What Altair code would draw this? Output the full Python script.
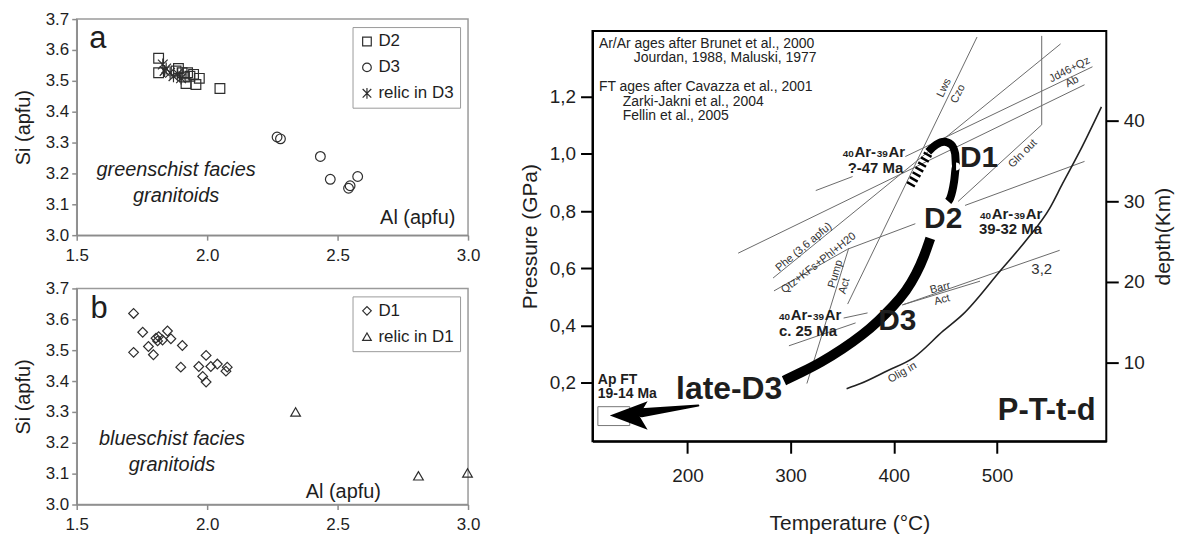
import altair as alt
import pandas as pd

FONT = "Liberation Sans"
INK = "#1e1e1e"
GREY = "#8c8c8c"
ASTER = "M-1,-1L1,1M-1,1L1,-1M0,-1.25L0,1.25"
HEAD = "M-1,0L1,-0.75L0.55,0L1,0.75Z"

# ---------------- panel a: greenschist facies ----------------
a_d2_al = [1.814, 1.814, 1.890, 1.904, 1.919, 1.925, 1.934, 1.948, 1.957, 1.970, 1.913, 2.049, 1.881]
a_d2_si = [3.573, 3.526, 3.540, 3.526, 3.491, 3.526, 3.515, 3.521, 3.488, 3.508, 3.512, 3.475, 3.532]
a_d3_al = [2.268, 2.281, 2.434, 2.472, 2.542, 2.548, 2.577]
a_d3_si = [3.318, 3.312, 3.255, 3.181, 3.152, 3.160, 3.190]
a_relic_al = [1.830, 1.843, 1.858, 1.871, 1.887, 1.837, 1.900]
a_relic_si = [3.553, 3.540, 3.526, 3.515, 3.523, 3.532, 3.508]

# ---------------- panel b: blueschist facies ----------------
b_d1_al = [1.718, 1.753, 1.718, 1.775, 1.794, 1.804, 1.814, 1.829, 1.848, 1.861, 1.905,
           1.899, 1.968, 1.996, 1.983, 1.996, 2.014, 2.039, 2.077, 2.072, 1.810]
b_d1_si = [3.619, 3.558, 3.493, 3.512, 3.485, 3.539, 3.544, 3.533, 3.562, 3.537, 3.515,
           3.445, 3.447, 3.483, 3.415, 3.397, 3.447, 3.455, 3.445, 3.432, 3.530]
b_relic_al = [2.339, 2.810, 2.998]
b_relic_si = [3.300, 3.093, 3.102]

al_ticks = [1.5, 2.0, 2.5, 3.0]
si_ticks = [3.0, 3.1, 3.2, 3.3, 3.4, 3.5, 3.6, 3.7]

# ---------------- P-T-t-d diagram ----------------
t_ticks = [200, 300, 400, 500]
p_ticks = [0.2, 0.4, 0.6, 0.8, 1.0, 1.2]
depth_ticks = [10, 20, 30, 40]

lws_T, lws_P = [480.7, 355.3], [1.409, 0.475]
pump_T, pump_P = [356.3, 315.8], [0.670, 0.197]
phe36_T, phe36_P = [283.0, 561.7], [0.566, 1.385]
qtz1_T, qtz1_P = [283.9, 355.3, 420.9], [0.521, 0.667, 0.756]
qtz2_T, qtz2_P = [469.1, 584.9], [0.820, 0.974]
jd1_T, jd1_P = [324.4, 360.1], [0.872, 0.921]
jd2_T, jd2_P = [411.2, 592.6], [0.991, 1.305]
lb_T, lb_P = [249.2, 584.9], [0.653, 1.242]
gln_T, gln_P = [543.4, 543.4, 462.4], [1.413, 1.102, 0.834]
barr_T, barr_P = [408.4, 483.6], [0.472, 0.555]
i32a_T, i32a_P = [298.4, 363.0], [0.329, 0.409]
i32b_T, i32b_P = [408.4, 560.8], [0.472, 0.663]
lead_T, lead_P = [351.4, 374.6], [0.426, 0.444]

olig_T = [354.3, 367.8, 393.9, 419.0, 447.9, 467.2, 502.9, 529.9, 551.1, 563.7, 580.1, 601.3]
olig_P = [0.179, 0.197, 0.242, 0.287, 0.381, 0.440, 0.590, 0.705, 0.810, 0.897, 1.008, 1.165]

hatch_T, hatch_P = [416.1, 433.4], [0.890, 1.001]
path1_T = [433.4, 441.2, 448.9, 455.6, 459.5, 460.4, 458.5, 454.7, 452.8]
path1_P = [1.008, 1.033, 1.043, 1.033, 1.001, 0.956, 0.904, 0.845, 0.834]
path2_T = [435.4, 429.6, 421.9, 412.2, 399.7, 385.2, 369.8, 350.5, 329.3, 310.0, 293.6]
path2_P = [0.705, 0.643, 0.580, 0.521, 0.468, 0.416, 0.367, 0.318, 0.270, 0.235, 0.207]

shaft_T, shaft_P, shaft_w = [155.6, 210.6], [0.095, 0.120], [9, 2]
head_T, head_P = [143.1], [0.085]
apft_T, apft_P = [113.2, 144.1], [0.050, 0.116]

notes_txt = ["Ar/Ar ages after Brunet et al., 2000", "Jourdan, 1988, Maluski, 1977",
             "FT ages after Cavazza et al., 2001", "Zarki-Jakni et al., 2004", "Fellin et al., 2005"]
notes_T = [114.2, 147.9, 114.2, 137.3, 137.3]
notes_P = [1.385, 1.334, 1.233, 1.183, 1.134]

ages_T, ages_P = [350.5, 483.6, 288.7], [0.989, 0.771, 0.420]
ages_sub = ["?-47 Ma", "39-32 Ma", "c. 25 Ma"]
ages_sub_T, ages_sub_P = [355.3, 482.6, 288.7], [0.935, 0.719, 0.364]
apft_txt = ["Ap FT", "19-14 Ma"]
apft_txt_T, apft_txt_P = [113.2, 113.2], [0.197, 0.148]

stage_txt = ["D1", "D2", "D3"]
stage_T, stage_P = [482.6, 447.9, 403.5], [0.984, 0.771, 0.416]

small_txt = ["Lws", "Czo", "Jd46+Qz", "Ab", "Gln out", "Phe (3,6 apfu)", "Qtz+KFs+Phl+H20",
             "Pump", "Act", "Barr", "Act", "Olig in"]
small_T = [448.9, 462.4, 570.4, 572.9, 525.1, 312.9, 327.3, 343.7, 352.4, 445.0, 446.9, 408.4]
small_P = [1.231, 1.210, 1.294, 1.252, 1.001, 0.674, 0.618, 0.580, 0.538, 0.531, 0.489, 0.235]
small_rot = [296, 296, 333, 333, 315, 320, 322, 286, 286, 345, 345, 330]


# ======================= left panels =======================
def left_panel(als, sis, groups, shapes, letter, letter_xy, facies, facies_xy, al_xy):
    df = pd.DataFrame({"Al": als, "Si": sis, "grp": groups})
    x = alt.X("Al:Q", title=None,
              scale=alt.Scale(domain=[1.5, 3.0], nice=False, zero=False),
              axis=alt.Axis(values=al_ticks, format=".1f", grid=False, labelFlush=False,
                            labelOverlap=False,
                            labelFontSize=17, labelColor=INK, labelPadding=7,
                            domainColor=GREY, domainWidth=1.5, tickColor=GREY,
                            tickWidth=1.5, tickSize=5))
    y = alt.Y("Si:Q", title="Si (apfu)",
              scale=alt.Scale(domain=[3.0, 3.7], nice=False, zero=False),
              axis=alt.Axis(values=si_ticks, format=".1f", grid=False, labelFlush=False,
                            labelOverlap=False,
                            labelFontSize=17, labelColor=INK, labelPadding=3,
                            domainColor=GREY, domainWidth=1.5, tickColor=GREY,
                            tickWidth=1.5, tickSize=5, titleFontSize=20,
                            titleFontWeight="normal", titleColor=INK, titlePadding=12))
    dom = list(dict.fromkeys(groups))
    pts = alt.Chart(df).mark_point(filled=False, strokeWidth=1.2, color="#2e2e2e",
                                   size=95, opacity=1, clip=False).encode(
        x=x, y=y,
        shape=alt.Shape("grp:N", scale=alt.Scale(domain=dom, range=shapes),
                        legend=alt.Legend(title=None, orient="top-right", offset=8,
                                          strokeColor="#9a9a9a", fillColor="white",
                                          padding=6, labelFontSize=17, labelColor=INK,
                                          labelFont=FONT, symbolSize=75,
                                          symbolStrokeWidth=1.2,
                                          symbolStrokeColor="#2e2e2e", rowPadding=8,
                                          labelOffset=3)),
    )
    ldf = pd.DataFrame({"Al": [letter_xy[0]], "Si": [letter_xy[1]], "t": [letter]})
    let = alt.Chart(ldf).mark_text(fontSize=31, align="left", baseline="middle",
                                   color=INK).encode(x=x, y=y, text="t:N")
    fdf = pd.DataFrame({"Al": [facies_xy[0], facies_xy[0]],
                        "Si": [facies_xy[1], facies_xy[1] - 0.083],
                        "t": [facies, "granitoids"]})
    fac = alt.Chart(fdf).mark_text(fontSize=20, fontStyle="italic", align="center",
                                   baseline="middle", color=INK).encode(
        x=x, y=y, text="t:N")
    adf = pd.DataFrame({"Al": [al_xy[0]], "Si": [al_xy[1]], "t": ["Al (apfu)"]})
    alab = alt.Chart(adf).mark_text(fontSize=20, align="left", baseline="middle",
                                    color=INK).encode(x=x, y=y, text="t:N")
    return alt.layer(pts, let, fac, alab).properties(
        width=393, height=217,
        view=alt.ViewBackground(stroke="#9a9a9a", strokeWidth=1.5))


panel_a = left_panel(
    a_d2_al + a_d3_al + a_relic_al, a_d2_si + a_d3_si + a_relic_si,
    ["D2"] * len(a_d2_al) + ["D3"] * len(a_d3_al) + ["relic in D3"] * len(a_relic_al),
    ["square", "circle", ASTER],
    "a", (1.548, 3.635), "greenschist facies", (1.881, 3.211), (2.663, 3.055))

panel_b = left_panel(
    b_d1_al + b_relic_al, b_d1_si + b_relic_si,
    ["D1"] * len(b_d1_al) + ["relic in D1"] * len(b_relic_al),
    ["diamond", "triangle-up"],
    "b", (1.553, 3.632), "blueschist facies", (1.865, 3.211), (2.378, 3.040))

left = alt.vconcat(panel_a, panel_b, spacing=14.5).resolve_scale(
    shape="independent").resolve_legend(shape="independent")

# ======================= right panel =======================
xr = alt.X("T:Q", title="Temperature (°C)",
           scale=alt.Scale(domain=[108, 606], nice=False, zero=False),
           axis=alt.Axis(values=t_ticks, grid=False, labelFlush=False, labelFontSize=19,
                         labelColor=INK, labelPadding=13, domainColor="black",
                         domainWidth=2, tickColor="black", tickWidth=2, tickSize=12,
                         titleFontSize=21, titleFontWeight="normal", titleColor=INK,
                         titlePadding=28))
yr = alt.Y("P:Q", title="Pressure (GPa)",
           scale=alt.Scale(domain=[-0.005, 1.43], nice=False, zero=False),
           axis=alt.Axis(values=p_ticks, grid=False, labelFlush=False,
                         labelExpr="replace(format(datum.value, '.1f'), '.', ',')",
                         labelFontSize=19, labelColor=INK, labelPadding=5,
                         domainColor="black", domainWidth=2, tickColor="black",
                         tickWidth=2, tickSize=12, titleFontSize=21,
                         titleFontWeight="normal", titleColor=INK, titlePadding=9))

reaction = {
    "lws": (lws_T, lws_P), "pump": (pump_T, pump_P), "phe36": (phe36_T, phe36_P),
    "qtz1": (qtz1_T, qtz1_P), "qtz2": (qtz2_T, qtz2_P), "jd1": (jd1_T, jd1_P),
    "jd2": (jd2_T, jd2_P), "lb": (lb_T, lb_P), "gln": (gln_T, gln_P),
    "barr": (barr_T, barr_P), "i32a": (i32a_T, i32a_P), "i32b": (i32b_T, i32b_P),
    "lead": (lead_T, lead_P),
}
rows = []
for k, (ts, ps) in reaction.items():
    for i, (t, p) in enumerate(zip(ts, ps)):
        rows.append({"id": k, "T": t, "P": p, "o": i})
rx_df = pd.DataFrame(rows)


def line_df(ts, ps):
    return pd.DataFrame({"T": ts, "P": ps, "o": list(range(len(ts)))})


thin = alt.Chart(rx_df).mark_line(color="#6a6a6a", strokeWidth=1).encode(
    x=xr, y=yr, detail="id:N", order="o:Q")
olig = alt.Chart(line_df(olig_T, olig_P)).mark_line(
    color="#222", strokeWidth=1.6, interpolate="monotone").encode(x=xr, y=yr, order="o:Q")
hatch = alt.Chart(line_df(hatch_T, hatch_P)).mark_line(
    color="black", strokeWidth=9, strokeDash=[2.5, 3.2], strokeCap="butt").encode(
    x=xr, y=yr, order="o:Q")
path1 = alt.Chart(line_df(path1_T, path1_P)).mark_line(
    color="black", strokeWidth=8, interpolate="monotone", strokeCap="butt").encode(
    x=xr, y=yr, order="o:Q")
path2 = alt.Chart(line_df(path2_T, path2_P)).mark_line(
    color="black", strokeWidth=10, interpolate="basis", strokeCap="butt").encode(
    x=xr, y=yr, order="o:Q")
shaft_df = pd.DataFrame({"T": shaft_T, "P": shaft_P, "w": shaft_w, "o": [0, 1]})
shaft = alt.Chart(shaft_df).mark_trail(color="black").encode(
    x=xr, y=yr, order="o:Q", size=alt.Size("w:Q", scale=None, legend=None))
head = alt.Chart(pd.DataFrame({"T": head_T, "P": head_P})).mark_point(
    shape=HEAD, size=1444, filled=True, color="black", opacity=1).encode(x=xr, y=yr)
apft = alt.Chart(pd.DataFrame({"T": [apft_T[0]], "T2": [apft_T[1]],
                               "P": [apft_P[0]], "P2": [apft_P[1]]})).mark_rect(
    fill="white", fillOpacity=0, stroke="#777", strokeWidth=1).encode(
    x=xr, x2="T2:Q", y=yr, y2="P2:Q")

notes = alt.Chart(pd.DataFrame({"T": notes_T, "P": notes_P, "t": notes_txt})).mark_text(
    fontSize=14, align="left", baseline="middle", color="#222").encode(
    x=xr, y=yr, text="t:N")

age_layers = []
for piece, fs, dx in [("40", 10, 0), ("Ar-", 15, 11.8), ("39", 10, 34.2), ("Ar", 15, 46.0)]:
    d = pd.DataFrame({"T": ages_T, "P": ages_P, "t": [piece] * len(ages_T)})
    age_layers.append(alt.Chart(d).mark_text(
        fontSize=fs, fontWeight="bold", align="left", baseline="alphabetic", dx=dx,
        color=INK).encode(x=xr, y=yr, text="t:N"))
ages2 = alt.Chart(pd.DataFrame({"T": ages_sub_T, "P": ages_sub_P, "t": ages_sub})).mark_text(
    fontSize=15, fontWeight="bold", align="left", baseline="alphabetic", color=INK).encode(
    x=xr, y=yr, text="t:N")
aptxt = alt.Chart(pd.DataFrame({"T": apft_txt_T, "P": apft_txt_P, "t": apft_txt})).mark_text(
    fontSize=14, fontWeight="bold", align="left", baseline="alphabetic", color=INK).encode(
    x=xr, y=yr, text="t:N")
stages = alt.Chart(pd.DataFrame({"T": stage_T, "P": stage_P, "t": stage_txt})).mark_text(
    fontSize=30, fontWeight="bold", align="center", baseline="middle", color=INK).encode(
    x=xr, y=yr, text="t:N")
late = alt.Chart(pd.DataFrame({"T": [240.5], "P": [0.179], "t": ["late-D3"]})).mark_text(
    fontSize=32, fontWeight="bold", align="center", baseline="middle", color=INK).encode(
    x=xr, y=yr, text="t:N")
ptd = alt.Chart(pd.DataFrame({"T": [548.2], "P": [0.102], "t": ["P-T-t-d"]})).mark_text(
    fontSize=31, fontWeight="bold", align="center", baseline="middle", color=INK).encode(
    x=xr, y=yr, text="t:N")
small = alt.Chart(pd.DataFrame({"T": small_T, "P": small_P, "t": small_txt,
                                "r": small_rot})).mark_text(
    fontSize=11, align="center", baseline="middle", color="#333").encode(
    x=xr, y=yr, text="t:N", angle=alt.Angle("r:Q", scale=None))
i32 = alt.Chart(pd.DataFrame({"T": [543.4], "P": [0.597], "t": ["3,2"]})).mark_text(
    fontSize=15, align="center", baseline="middle", color="#333").encode(
    x=xr, y=yr, text="t:N")

inner = alt.layer(thin, olig, apft, hatch, path1, path2, shaft, head, notes, *age_layers,
                  ages2, aptxt, stages, late, ptd, small, i32)

depth_layer = alt.Chart(pd.DataFrame({"depth": depth_ticks})).mark_point(opacity=0).encode(
    y=alt.Y("depth:Q", title="depth(Km)",
            scale=alt.Scale(domain=[0.2, 51.1], nice=False, zero=False),
            axis=alt.Axis(orient="right", values=depth_ticks, grid=False,
                          labelFontSize=19, labelColor=INK, labelPadding=5,
                          domain=False, tickColor="black", tickWidth=2, tickSize=12,
                          titleFontSize=21, titleFontWeight="normal", titleColor=INK,
                          titlePadding=8, titleAngle=270, titleBaseline="top")))

right = alt.layer(inner, depth_layer).resolve_scale(y="independent").properties(
    width=516, height=412,
    view=alt.ViewBackground(stroke="black", strokeWidth=2))

# an empty strip above the diagram so that its frame sits lower than panel a
strip = alt.Chart(pd.DataFrame({"s": [0]})).mark_rule(strokeOpacity=0).encode(
    x=alt.value(10), x2=alt.value(20), y=alt.value(0.5)).properties(
    width=516, height=1, view=alt.ViewBackground(stroke="transparent"))

right_col = alt.vconcat(strip, right, spacing=9)

chart = alt.hconcat(left, right_col, spacing=37).properties(
    padding={"left": 4, "top": 0, "right": 0, "bottom": 0}
).configure(font=FONT).configure_axis(grid=False)

chart.save("out.html", embed_options={"renderer": "svg", "actions": False})
